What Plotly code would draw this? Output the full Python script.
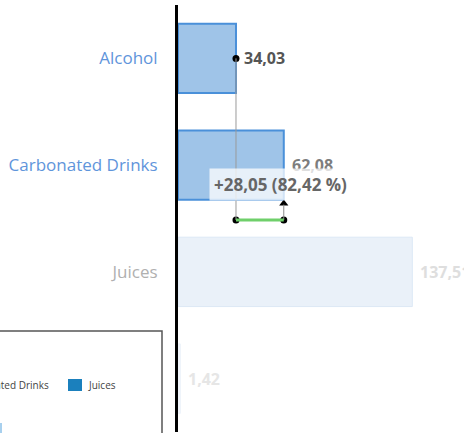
import plotly.graph_objects as go

# ---- data ----
categories = ["Alcohol", "Carbonated Drinks", "Juices", ""]
values = [34.03, 62.08, 137.51, 1.42]
value_labels = ["34,03", "62,08", "137,51", "1,42"]
delta_label = "+28,05 (82,42 %)"
legend_items = ["Carbonated Drinks", "Juices"]

# ---- styles ----
bar_fill = ["#9fc4e8", "#9fc4e8", "#eaf1f9", "#f3f7fc"]
bar_line = ["#4a90d9", "#4a90d9", "#dce8f5", "#eef3fa"]
bar_line_w = [2, 2, 1, 1]
cat_colors = ["#5f95db", "#5f95db", "#b0b0b0", "#ffffff"]
val_colors = ["#555555", "#7d7d7d", "#dedede", "#e6e6e6"]

ypos = list(range(len(categories)))
FONT = "Open Sans"

fig = go.Figure()
fig.add_trace(go.Bar(
    x=values, y=ypos, orientation="h", width=0.65,
    marker=dict(color=bar_fill, line=dict(color=bar_line, width=bar_line_w)),
    hoverinfo="skip", showlegend=False,
))

# comparison between first two bars
a, b = values[0], values[1]
y_cmp = 1.514
shapes = [
    dict(type="line", xref="x", yref="y", x0=a, x1=a, y0=0, y1=y_cmp,
         line=dict(color="#9a9a9a", width=1), layer="above"),
    dict(type="line", xref="x", yref="y", x0=b, x1=b, y0=1.37, y1=y_cmp,
         line=dict(color="#8a8a8a", width=1), layer="above"),
    dict(type="line", xref="x", yref="y", x0=a, x1=b, y0=y_cmp, y1=y_cmp,
         line=dict(color="#6fcf6a", width=3), layer="above"),
]
fig.add_trace(go.Scatter(
    x=[a, a, b], y=[0, y_cmp, y_cmp], mode="markers",
    marker=dict(color="black", size=7), hoverinfo="skip", showlegend=False,
))
fig.add_trace(go.Scatter(
    x=[b], y=[1.36], mode="markers",
    marker=dict(color="black", size=8, symbol="triangle-up"),
    hoverinfo="skip", showlegend=False,
))

annotations = []
for i, (v, t, c) in enumerate(zip(values, value_labels, val_colors)):
    annotations.append(dict(
        x=v, y=i, xref="x", yref="y", text=f"<b>{t}</b>", showarrow=False,
        xanchor="left", yanchor="middle", xshift=6,
        font=dict(family=FONT, size=16, color=c),
    ))
annotations.append(dict(
    x=a, y=1.177, xref="x", yref="y", text=f"<b>{delta_label}</b>",
    showarrow=False, xanchor="left", yanchor="middle", xshift=-27,
    bgcolor="rgba(255,255,255,0.75)", borderpad=4,
    font=dict(family=FONT, size=17, color="#666666"),
))

# clipped legend box at bottom-left (paper coords relative to plot area)
L, T, PW, PH = 178, 5, 286, 427
def px_x(p):
    return (p - L) / PW
def px_y(p):
    return (T + PH - p) / PH

shapes += [
    dict(type="rect", xref="paper", yref="paper", x0=px_x(-60), x1=px_x(162),
         y0=px_y(520), y1=px_y(331), line=dict(color="#555555", width=1.5),
         fillcolor="rgba(0,0,0,0)"),
    dict(type="rect", xref="paper", yref="paper", x0=px_x(68), x1=px_x(82),
         y0=px_y(391), y1=px_y(379), line=dict(width=0), fillcolor="#1b80bd"),
    dict(type="rect", xref="paper", yref="paper", x0=px_x(-8), x1=px_x(2),
         y0=px_y(445), y1=px_y(423), line=dict(width=0), fillcolor="#a8d0ee"),
]
annotations += [
    dict(x=px_x(51), y=px_y(385), xref="paper", yref="paper", text=legend_items[0],
         showarrow=False, xanchor="right", yanchor="middle",
         font=dict(family=FONT, size=10, color="#444444")),
    dict(x=px_x(86), y=px_y(385), xref="paper", yref="paper", text=legend_items[1],
         showarrow=False, xanchor="left", yanchor="middle",
         font=dict(family=FONT, size=10, color="#444444")),
]

ticktext = [f'<span style="color:{c}">{n}</span>' if n else "" for n, c in zip(categories, cat_colors)]

fig.update_layout(
    width=464, height=433,
    margin=dict(l=L, r=0, t=T, b=433 - T - PH),
    plot_bgcolor="white", paper_bgcolor="white",
    shapes=shapes, annotations=annotations,
    xaxis=dict(range=[0, PW / 1.704], visible=False, showgrid=False, zeroline=False),
    yaxis=dict(range=[3.5, -0.5], tickvals=ypos, ticktext=ticktext,
               showline=True, linecolor="black", linewidth=3, ticks="",
               showgrid=False, zeroline=False, ticklabelstandoff=14,
               tickfont=dict(family=FONT, size=17)),
    showlegend=False,
)

fig.write_html("out.html", config={"displayModeBar": False},
               post_script="document.body.style.margin='0px';")
